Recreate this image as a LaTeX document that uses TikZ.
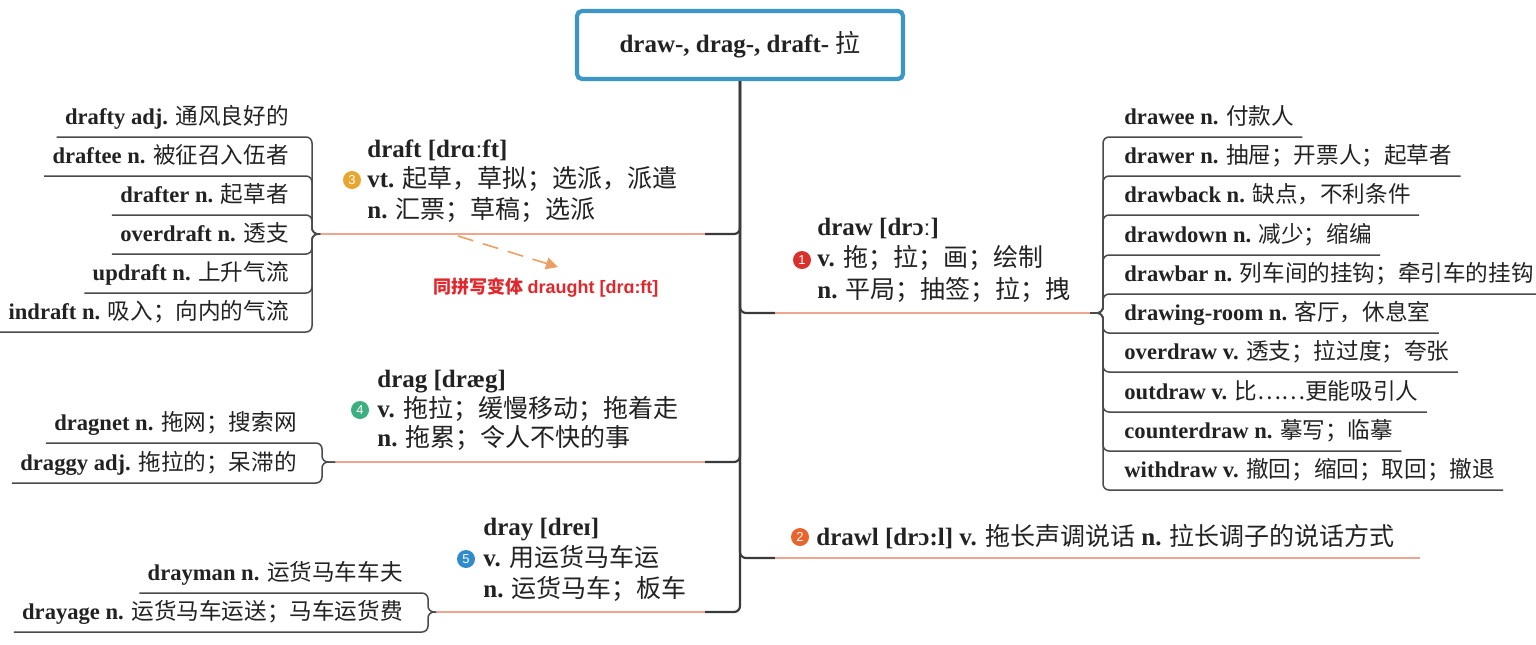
\documentclass[tikz,border=0pt]{standalone}
\usepackage{fontspec}
\setmainfont{Liberation Serif}
\newfontfamily\cjk{Noto Sans CJK SC}
\newfontfamily\lsans{Liberation Sans}
\usetikzlibrary{arrows.meta}
\definecolor{boxblue}{HTML}{3C97C6}
\definecolor{trunkc}{HTML}{3A3A3A}
\definecolor{salmon}{HTML}{F0A58E}
\definecolor{brkc}{HTML}{4A4A4A}
\definecolor{arrowc}{HTML}{E9A062}
\definecolor{labred}{HTML}{E2262B}
\definecolor{bdgA}{HTML}{D9302B}
\definecolor{bdgB}{HTML}{E8642C}
\definecolor{bdgC}{HTML}{EAA52E}
\definecolor{bdgD}{HTML}{3DAE80}
\definecolor{bdgE}{HTML}{2F8BCB}
\definecolor{txt}{HTML}{222222}
\newcommand\zh[1]{{\cjk\mdseries #1}}
\begin{document}
\begin{tikzpicture}[x=0.5pt,y=-0.5pt,
  titlebox/.style={draw=boxblue, line width=2.1pt, rounded corners=2.5pt, fill=white,
    minimum width=163pt, minimum height=34pt, inner sep=0pt, text=txt,
    font=\fontsize{12.5}{15}\selectfont\bfseries},
  leafL/.style={anchor=south east, font=\fontsize{11.3}{13}\selectfont\bfseries, text=txt,
    inner xsep=4pt, inner ysep=1pt, text height=9pt, text depth=5pt},
  leafR/.style={leafL, anchor=south west},
  mainl/.style={anchor=base west, inner sep=0pt, text=txt,
    font=\fontsize{12.5}{15}\selectfont\bfseries},
  badge/.style={circle, inner sep=0pt, minimum size=9pt, text=white,
    font=\lsans\fontsize{6.5}{7}\selectfont},
  trunkline/.style={draw=trunkc, line width=1.1pt, rounded corners=3pt},
  pinkline/.style={draw=salmon, line width=0.8pt},
  brkline/.style={draw=brkc, line width=0.75pt, rounded corners=3pt}
]
\useasboundingbox (0,0) rectangle (1536,644);

% title
\node[titlebox] (title) at (740,45) {draw-, drag-, draft- \zh{拉}};

% junction coordinates
\coordinate (jDraft) at (705,234);
\coordinate (kDraft) at (320,234);
\coordinate (draftBr) at (312,234);
\coordinate (jDrag) at (705,462);
\coordinate (kDrag) at (335,462);
\coordinate (dragBr) at (322,462);
\coordinate (jDray) at (705,612);
\coordinate (kDray) at (436,612);
\coordinate (drayBr) at (428,612);
\coordinate (jDraw) at (775,313);
\coordinate (kDraw) at (1090,313);
\coordinate (drawBr) at (1103,313);
\coordinate (jDrawl) at (775,558);
\coordinate (eDrawl) at (1420,558);

% trunk and branches
\draw[trunkline] (title.south) -- (title.south |- jDraft) -- (jDraft);
\draw[trunkline] (title.south) -- (title.south |- jDrag) -- (jDrag);
\draw[trunkline] (title.south) -- (title.south |- jDray) -- (jDray);
\draw[trunkline] (title.south) -- (title.south |- jDraw) -- (jDraw);
\draw[trunkline] (title.south) -- (title.south |- jDrawl) -- (jDrawl);
\draw[pinkline] (jDraft) -- (kDraft);
\draw[pinkline] (jDrag) -- (kDrag);
\draw[pinkline] (jDray) -- (kDray);
\draw[pinkline] (jDraw) -- (kDraw);
\draw[draw=salmon, line width=1.1pt] (jDrawl) -- (eDrawl);

% draft block
\node[mainl] (draftA) at (367,157) {draft [drɑːft]};
\node[mainl] (draftB) at (367,187) {vt. \zh{起草，草拟；选派，派遣}};
\node[mainl] (draftC) at (367,218) {n. \zh{汇票；草稿；选派}};
\node[badge, fill=bdgC] (b3) at (352,180) {3};

% drag block
\node[mainl] (dragA) at (377,387) {drag [dræg]};
\node[mainl] (dragB) at (377,417) {v. \zh{拖拉；缓慢移动；拖着走}};
\node[mainl] (dragC) at (377,446) {n. \zh{拖累；令人不快的事}};
\node[badge, fill=bdgD] (b4) at (360,410) {4};

% dray block
\node[mainl] (drayA) at (483,535) {dray [dreɪ]};
\node[mainl] (drayB) at (483,566) {v. \zh{用运货马车运}};
\node[mainl] (drayC) at (483,597) {n. \zh{运货马车；板车}};
\node[badge, fill=bdgE] (b5) at (466,559) {5};

% draw block
\node[mainl] (drawA) at (817,235) {draw [drɔː]};
\node[mainl] (drawB) at (817,266) {v. \zh{拖；拉；画；绘制}};
\node[mainl] (drawC) at (817,298) {n. \zh{平局；抽签；拉；拽}};
\node[badge, fill=bdgA] (b1) at (802,260) {1};

% drawl
\node[mainl] (drawl) at (816,545) {drawl [drɔ:l] v. \zh{拖长声调说话} n. \zh{拉长调子的说话方式}};
\node[badge, fill=bdgB] (b2) at (800,537) {2};

% draught note
\node[anchor=base west, inner sep=0pt, text=labred, font=\fontsize{9}{11}\selectfont\bfseries]
  (note) at (433,293) {\cjk 同拼写变体 \lsans draught [drɑ:ft]};
\coordinate (arS) at (458,236);
\coordinate (arE) at (558,267);
\draw[draw=arrowc, line width=0.8pt, dash pattern=on 8pt off 5pt,
  -{Triangle[length=6pt,width=6pt]}] (arS) -- (arE);

% draft leaves
\node[leafL] (L1) at (297,137) {drafty adj. \zh{通风良好的}};
\node[leafL] (L2) at (297,176) {draftee n. \zh{被征召入伍者}};
\node[leafL] (L3) at (297,215) {drafter n. \zh{起草者}};
\node[leafL] (L4) at (297,254) {overdraft n. \zh{透支}};
\node[leafL] (L5) at (297,293) {updraft n. \zh{上升气流}};
\node[leafL] (L6) at (297,332) {indraft n. \zh{吸入；向内的气流}};
\foreach \n in {L1,L2,L3,L4,L5,L6}
  \draw[brkline] (kDraft) -- (draftBr) -- (draftBr |- \n.south) -- (\n.south west);

% drag leaves
\node[leafL] (G1) at (305,443) {dragnet n. \zh{拖网；搜索网}};
\node[leafL] (G2) at (305,483) {draggy adj. \zh{拖拉的；呆滞的}};
\foreach \n in {G1,G2}
  \draw[brkline] (kDrag) -- (dragBr) -- (dragBr |- \n.south) -- (\n.south west);

% dray leaves
\node[leafL] (Y1) at (411,593) {drayman n. \zh{运货马车车夫}};
\node[leafL] (Y2) at (411,632) {drayage n. \zh{运货马车运送；马车运货费}};
\foreach \n in {Y1,Y2}
  \draw[brkline] (kDray) -- (drayBr) -- (drayBr |- \n.south) -- (\n.south west);

% draw leaves
\node[leafR] (R1) at (1116,137) {drawee n. \zh{付款人}};
\node[leafR] (R2) at (1116,176) {drawer n. \zh{抽屉；开票人；起草者}};
\node[leafR] (R3) at (1116,215) {drawback n. \zh{缺点，不利条件}};
\node[leafR] (R4) at (1116,255) {drawdown n. \zh{减少；缩编}};
\node[leafR] (R5) at (1116,294) {drawbar n. \zh{列车间的挂钩；牵引车的挂钩}};
\node[leafR] (R6) at (1116,333) {drawing-room n. \zh{客厅，休息室}};
\node[leafR] (R7) at (1116,372) {overdraw v. \zh{透支；拉过度；夸张}};
\node[leafR] (R8) at (1116,412) {outdraw v. \zh{比……更能吸引人}};
\node[leafR] (R9) at (1116,451) {counterdraw n. \zh{摹写；临摹}};
\node[leafR] (R10) at (1116,490) {withdraw v. \zh{撤回；缩回；取回；撤退}};
\foreach \n in {R1,R2,R3,R4,R5,R6,R7,R8,R9,R10}
  \draw[brkline] (kDraw) -- (drawBr) -- (drawBr |- \n.south) -- (\n.south east);
\end{tikzpicture}
\end{document}
